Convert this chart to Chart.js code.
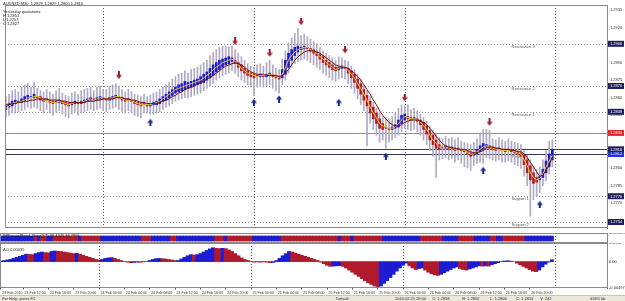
<!DOCTYPE html>
<html>
<head>
<meta charset="utf-8">
<script src="https://cdn.jsdelivr.net/npm/chart.js@4.4.1/dist/chart.umd.min.js"></script>
<style>
  html, body { margin: 0; padding: 0; background: #fff; }
  #wrap { position: relative; width: 625px; height: 301px; overflow: hidden; font-family: "Liberation Sans", Arial, sans-serif; }
  canvas { position: absolute; left: 0; }
  #main { top: 0; }
  #band { top: 233px; }
  #ao { top: 243px; }
  .tiny { position: absolute; font-size: 8px; line-height: 8px; color: #202020; white-space: pre; transform: scale(0.5); transform-origin: 0 0; }
  #status { position: absolute; left: 0; top: 295px; width: 625px; height: 6px; background: #ece9d8; border-top: 1px solid #c8c4b0; }
</style>
</head>
<body>
<div id="wrap">
  <canvas id="main" width="625" height="233"></canvas>
  <canvas id="band" width="625" height="10"></canvas>
  <canvas id="ao" width="625" height="51"></canvas>
  <div id="header"></div>
  <div id="status"></div>
</div>
<script>
// AUDNZD M30, 175 bars from 23 Feb 08:30 to 26 Feb 23:30
const opens = [
  1.2850,1.2852,1.2853,1.2855,1.2856,1.2856,1.2857,1.2859,1.2860,1.2860,
  1.2861,1.2861,1.2859,1.2858,1.2858,1.2857,1.2856,1.2856,1.2857,1.2856,
  1.2855,1.2854,1.2855,1.2856,1.2855,1.2856,1.2857,1.2858,1.2859,1.2858,
  1.2859,1.2860,1.2859,1.2858,1.2859,1.2860,1.2861,1.2860,1.2859,1.2858,
  1.2858,1.2857,1.2856,1.2855,1.2854,1.2854,1.2853,1.2854,1.2854,1.2855,
  1.2857,1.2858,1.2860,1.2862,1.2864,1.2865,1.2866,1.2867,1.2868,1.2869,
  1.2870,1.2871,1.2872,1.2873,1.2875,1.2877,1.2879,1.2882,1.2884,1.2886,
  1.2888,1.2889,1.2891,1.2892,1.2890,1.2888,1.2885,1.2883,1.2881,1.2880,
  1.2878,1.2878,1.2879,1.2878,1.2879,1.2880,1.2879,1.2878,1.2877,1.2880,
  1.2886,1.2892,1.2896,1.2899,1.2901,1.2902,1.2903,1.2902,1.2901,1.2899,
  1.2897,1.2895,1.2892,1.2890,1.2888,1.2886,1.2884,1.2885,1.2886,1.2885,
  1.2883,1.2880,1.2876,1.2872,1.2867,1.2862,1.2857,1.2852,1.2847,1.2842,
  1.2838,1.2835,1.2834,1.2833,1.2834,1.2835,1.2838,1.2841,1.2844,1.2843,
  1.2842,1.2842,1.2841,1.2839,1.2836,1.2832,1.2828,1.2824,1.2820,1.2818,
  1.2817,1.2818,1.2817,1.2817,1.2816,1.2816,1.2815,1.2814,1.2813,1.2811,
  1.2812,1.2814,1.2816,1.2818,1.2819,1.2818,1.2817,1.2816,1.2816,1.2816,
  1.2815,1.2816,1.2815,1.2814,1.2813,1.2811,1.2807,1.2802,1.2796,1.2792,
  1.2790,1.2792,1.2796,1.2801,1.2807
];
const closes = [
  1.2853,1.2855,1.2857,1.2858,1.2857,1.2859,1.2861,1.2862,1.2861,1.2863,
  1.2860,1.2858,1.2857,1.2859,1.2856,1.2855,1.2857,1.2858,1.2855,1.2854,
  1.2853,1.2856,1.2857,1.2855,1.2857,1.2858,1.2859,1.2860,1.2858,1.2860,
  1.2861,1.2859,1.2858,1.2860,1.2861,1.2862,1.2860,1.2858,1.2857,1.2859,
  1.2857,1.2855,1.2854,1.2853,1.2855,1.2853,1.2854,1.2856,1.2857,1.2859,
  1.2861,1.2863,1.2865,1.2867,1.2869,1.2871,1.2872,1.2874,1.2873,1.2874,
  1.2875,1.2876,1.2878,1.2880,1.2882,1.2885,1.2888,1.2890,1.2892,1.2893,
  1.2894,1.2895,1.2894,1.2889,1.2886,1.2883,1.2881,1.2879,1.2878,1.2877,
  1.2879,1.2880,1.2878,1.2880,1.2881,1.2878,1.2877,1.2876,1.2884,1.2892,
  1.2898,1.2901,1.2903,1.2904,1.2903,1.2904,1.2902,1.2900,1.2898,1.2896,
  1.2893,1.2890,1.2888,1.2886,1.2884,1.2883,1.2886,1.2887,1.2885,1.2881,
  1.2877,1.2873,1.2868,1.2863,1.2858,1.2853,1.2847,1.2842,1.2838,1.2834,
  1.2833,1.2834,1.2833,1.2835,1.2837,1.2841,1.2845,1.2846,1.2842,1.2841,
  1.2843,1.2840,1.2837,1.2833,1.2829,1.2824,1.2820,1.2817,1.2816,1.2817,
  1.2819,1.2816,1.2818,1.2815,1.2817,1.2815,1.2814,1.2812,1.2810,1.2813,
  1.2816,1.2819,1.2821,1.2820,1.2817,1.2816,1.2815,1.2817,1.2815,1.2814,
  1.2816,1.2814,1.2813,1.2812,1.2810,1.2803,1.2796,1.2790,1.2787,1.2788,
  1.2793,1.2799,1.2806,1.2812,1.2816
];
const highs = [
  1.2861,1.2863,1.2866,1.2867,1.2865,1.2869,1.2871,1.2872,1.2869,1.2873,
  1.2868,1.2866,1.2865,1.2867,1.2865,1.2863,1.2866,1.2868,1.2864,1.2862,
  1.2861,1.2864,1.2865,1.2863,1.2866,1.2867,1.2868,1.2869,1.2866,1.2869,
  1.2870,1.2867,1.2867,1.2870,1.2871,1.2872,1.2870,1.2867,1.2865,1.2867,
  1.2865,1.2863,1.2862,1.2861,1.2863,1.2861,1.2862,1.2864,1.2865,1.2867,
  1.2869,1.2871,1.2873,1.2876,1.2878,1.2880,1.2881,1.2883,1.2881,1.2884,
  1.2885,1.2886,1.2888,1.2890,1.2892,1.2896,1.2899,1.2901,1.2903,1.2904,
  1.2904,1.2903,1.2904,1.2901,1.2898,1.2895,1.2892,1.2889,1.2887,1.2886,
  1.2888,1.2889,1.2887,1.2890,1.2892,1.2888,1.2885,1.2884,1.2893,1.2900,
  1.2907,1.2911,1.2915,1.2919,1.2913,1.2914,1.2912,1.2910,1.2908,1.2906,
  1.2903,1.2900,1.2898,1.2896,1.2894,1.2892,1.2895,1.2894,1.2892,1.2891,
  1.2887,1.2884,1.2880,1.2876,1.2871,1.2866,1.2861,1.2856,1.2851,1.2847,
  1.2844,1.2843,1.2842,1.2844,1.2847,1.2851,1.2854,1.2853,1.2854,1.2850,
  1.2851,1.2849,1.2846,1.2843,1.2840,1.2836,1.2832,1.2829,1.2826,1.2825,
  1.2827,1.2825,1.2826,1.2824,1.2826,1.2823,1.2822,1.2821,1.2820,1.2822,
  1.2825,1.2830,1.2833,1.2833,1.2832,1.2825,1.2824,1.2826,1.2824,1.2823,
  1.2825,1.2823,1.2822,1.2821,1.2820,1.2815,1.2811,1.2807,1.2801,1.2799,
  1.2801,1.2807,1.2815,1.2823,1.2824
];
const lows = [
  1.2843,1.2845,1.2847,1.2847,1.2848,1.2849,1.2850,1.2852,1.2851,1.2852,
  1.2851,1.2849,1.2847,1.2850,1.2847,1.2845,1.2848,1.2849,1.2846,1.2844,
  1.2843,1.2846,1.2848,1.2845,1.2847,1.2848,1.2849,1.2850,1.2849,1.2850,
  1.2851,1.2849,1.2848,1.2850,1.2851,1.2852,1.2850,1.2848,1.2847,1.2849,
  1.2847,1.2845,1.2844,1.2843,1.2847,1.2847,1.2846,1.2846,1.2847,1.2848,
  1.2850,1.2852,1.2853,1.2855,1.2857,1.2858,1.2859,1.2860,1.2860,1.2861,
  1.2862,1.2863,1.2864,1.2866,1.2868,1.2870,1.2872,1.2875,1.2877,1.2879,
  1.2880,1.2881,1.2883,1.2881,1.2878,1.2875,1.2873,1.2871,1.2869,1.2862,
  1.2869,1.2870,1.2869,1.2870,1.2871,1.2868,1.2866,1.2864,1.2871,1.2875,
  1.2881,1.2886,1.2889,1.2891,1.2892,1.2893,1.2892,1.2890,1.2888,1.2886,
  1.2884,1.2881,1.2879,1.2877,1.2875,1.2874,1.2876,1.2877,1.2876,1.2872,
  1.2868,1.2864,1.2859,1.2854,1.2849,1.2819,1.2838,1.2833,1.2828,1.2822,
  1.2824,1.2817,1.2822,1.2824,1.2826,1.2828,1.2831,1.2834,1.2833,1.2832,
  1.2833,1.2831,1.2828,1.2824,1.2820,1.2815,1.2810,1.2792,1.2807,1.2808,
  1.2809,1.2807,1.2808,1.2805,1.2807,1.2804,1.2801,1.2800,1.2798,1.2802,
  1.2804,1.2805,1.2804,1.2809,1.2808,1.2807,1.2806,1.2807,1.2805,1.2805,
  1.2806,1.2805,1.2803,1.2802,1.2800,1.2793,1.2785,1.2759,1.2773,1.2776,
  1.2779,1.2785,1.2789,1.2795,1.2801
];
// yellow and dark red moving averages
const fastMA = [
  1.2851,1.2853,1.2855,1.2856,1.2856,1.2857,1.2858,1.2860,1.2860,1.2861,
  1.2861,1.2860,1.2858,1.2858,1.2857,1.2856,1.2856,1.2857,1.2856,1.2855,
  1.2854,1.2855,1.2856,1.2856,1.2856,1.2857,1.2858,1.2859,1.2858,1.2859,
  1.2860,1.2860,1.2859,1.2859,1.2860,1.2861,1.2861,1.2859,1.2858,1.2858,
  1.2858,1.2856,1.2855,1.2854,1.2854,1.2854,1.2854,1.2855,1.2856,1.2857,
  1.2859,1.2861,1.2863,1.2865,1.2867,1.2868,1.2869,1.2870,1.2871,1.2872,
  1.2873,1.2874,1.2875,1.2877,1.2879,1.2881,1.2884,1.2886,1.2888,1.2890,
  1.2891,1.2892,1.2893,1.2891,1.2888,1.2885,1.2883,1.2881,1.2880,1.2879,
  1.2878,1.2879,1.2879,1.2879,1.2880,1.2880,1.2878,1.2877,1.2880,1.2886,
  1.2892,1.2896,1.2899,1.2901,1.2902,1.2903,1.2903,1.2901,1.2900,1.2898,
  1.2895,1.2893,1.2890,1.2888,1.2886,1.2884,1.2885,1.2886,1.2886,1.2883,
  1.2880,1.2877,1.2872,1.2868,1.2863,1.2858,1.2852,1.2847,1.2843,1.2838,
  1.2836,1.2835,1.2834,1.2834,1.2835,1.2838,1.2841,1.2844,1.2843,1.2842,
  1.2842,1.2841,1.2839,1.2836,1.2833,1.2828,1.2824,1.2821,1.2818,1.2817,
  1.2818,1.2817,1.2817,1.2816,1.2816,1.2816,1.2815,1.2813,1.2812,1.2812,
  1.2814,1.2816,1.2818,1.2819,1.2818,1.2817,1.2816,1.2816,1.2815,1.2815,
  1.2815,1.2815,1.2814,1.2813,1.2812,1.2807,1.2802,1.2796,1.2792,1.2790,
  1.2791,1.2795,1.2801,1.2806,1.2811
];
const slowMA = [
  1.2854,1.2854,1.2855,1.2855,1.2856,1.2856,1.2857,1.2857,1.2858,1.2858,
  1.2859,1.2859,1.2859,1.2859,1.2858,1.2858,1.2858,1.2858,1.2857,1.2857,
  1.2856,1.2856,1.2856,1.2856,1.2856,1.2856,1.2857,1.2857,1.2857,1.2858,
  1.2858,1.2859,1.2859,1.2859,1.2859,1.2860,1.2860,1.2860,1.2859,1.2859,
  1.2858,1.2858,1.2857,1.2856,1.2856,1.2855,1.2855,1.2855,1.2855,1.2856,
  1.2857,1.2858,1.2859,1.2861,1.2862,1.2864,1.2865,1.2867,1.2868,1.2869,
  1.2870,1.2872,1.2873,1.2874,1.2876,1.2877,1.2879,1.2881,1.2883,1.2885,
  1.2887,1.2888,1.2889,1.2890,1.2889,1.2888,1.2886,1.2884,1.2882,1.2881,
  1.2880,1.2880,1.2880,1.2879,1.2879,1.2879,1.2879,1.2878,1.2879,1.2881,
  1.2884,1.2888,1.2892,1.2895,1.2897,1.2899,1.2900,1.2900,1.2900,1.2899,
  1.2898,1.2896,1.2894,1.2892,1.2890,1.2888,1.2887,1.2886,1.2886,1.2885,
  1.2883,1.2881,1.2878,1.2875,1.2871,1.2867,1.2863,1.2858,1.2854,1.2849,
  1.2845,1.2842,1.2839,1.2837,1.2836,1.2836,1.2837,1.2839,1.2840,1.2841,
  1.2841,1.2841,1.2840,1.2839,1.2837,1.2834,1.2831,1.2827,1.2824,1.2821,
  1.2819,1.2818,1.2817,1.2817,1.2816,1.2816,1.2816,1.2815,1.2814,1.2813,
  1.2813,1.2814,1.2815,1.2817,1.2818,1.2818,1.2817,1.2817,1.2816,1.2816,
  1.2816,1.2815,1.2815,1.2814,1.2814,1.2812,1.2809,1.2805,1.2801,1.2797,
  1.2793,1.2794,1.2798,1.2803,1.2809
];
// Awesome Oscillator
const aoValues = [
  0.0001,0.0002,0.0003,0.0004,0.0006,0.0008,0.0010,0.0012,0.0014,0.00135,
  0.0013,0.0015,0.0017,0.0018,0.0017,0.00165,0.0019,0.0020,0.00195,0.0019,
  0.0018,0.0017,0.0016,0.0015,0.00155,0.0014,0.0012,0.0010,0.0008,0.0006,
  0.0004,0.0003,0.0004,0.0006,0.0007,0.00075,0.0006,0.0004,0.0002,0.0000,
  -0.0001,-0.0002,-0.00015,-0.0001,-0.00012,-0.00005,0.0000,0.0002,0.0004,0.00055,
  0.0006,0.00055,0.0005,0.0004,0.0003,0.0002,0.0002,0.0005,0.0008,0.0011,
  0.0013,0.00125,0.0013,0.0015,0.0018,0.0021,0.0024,0.0026,0.0025,0.00245,
  0.0025,0.00245,0.0022,0.0019,0.0015,0.0011,0.0007,0.0004,0.0002,0.0000,
  -0.0001,-0.00005,-0.0001,-0.00005,-0.0001,-0.0002,-0.00015,0.0002,0.0006,0.0011,
  0.0015,0.0019,0.0018,0.0016,0.0014,0.0012,0.0010,0.0008,0.0006,0.0004,
  0.0002,-0.0001,-0.0004,-0.0007,-0.0009,-0.00085,-0.0008,-0.00075,-0.0009,-0.0012,
  -0.0016,-0.0020,-0.0024,-0.0028,-0.0032,-0.0036,-0.0040,-0.0043,-0.0046,-0.00497,
  -0.0046,-0.0041,-0.0036,-0.0030,-0.0024,-0.0018,-0.0012,-0.0007,-0.0003,-0.0008,
  -0.0012,-0.0015,-0.0013,-0.0012,-0.0016,-0.0020,-0.0023,-0.0025,-0.0026,-0.0024,
  -0.0021,-0.0018,-0.0015,-0.0012,-0.0010,-0.0013,-0.0015,-0.0016,-0.0014,-0.0012,
  -0.0010,-0.0008,-0.00085,-0.0008,-0.00085,-0.0006,-0.0004,-0.0002,0.0000,0.0001,
  0.00015,0.0001,0.0000,-0.0003,-0.0006,-0.0009,-0.0012,-0.0015,-0.0018,-0.0019,
  -0.0016,-0.0010,-0.0005,-0.0001,0.00035
];
// band indicator: [direction, number of bars]
const bandRuns = [[1,11],[-1,1],[1,1],[-1,2],[1,2],[-1,8],[1,1],[-1,6],[1,13],[-1,3],[1,6],[-1,2],[1,12],[-1,3],[1,1],[-1,8],[1,9],[-1,18],[1,1],[-1,3],[1,1],[-1,9],[1,12],[-1,7],[1,5],[-1,5],[1,5],[-1,2],[1,2],[-1,7],[1,9]];

const downArrowBars = [36, 73, 84, 94, 108, 127, 154];
const downArrowPrices = [1.2879, 1.2908, 1.2898, 1.2925, 1.2901, 1.2860, 1.2839];
const upArrowBars = [46, 79, 87, 106, 121, 152, 170];
const upArrowPrices = [1.2839, 1.2856, 1.2859, 1.2856, 1.2810, 1.2798, 1.2769];

const pivotNames = ['Resistance 3', 'Resistance 2', 'Resistance 1', 'Pivot', 'Support 1', 'Support 2'];
const pivotPrices = [1.2906, 1.2870, 1.2848, 1.2812, 1.2776, 1.2754];
const closeLinePrice = 1.2830;
const bidPrice = 1.2816;

const priceTicks = [1.2935, 1.2920, 1.2905, 1.2890, 1.2875, 1.2860, 1.2845, 1.2830, 1.2815, 1.2800, 1.2785, 1.2770, 1.2755];
const tickBars = [0, 7, 15, 23, 31, 39, 47, 55, 63, 71, 79, 87, 95, 103, 111, 119, 127, 135, 143, 151, 159, 167];
const tickLabels = ['23 Feb 2010', '23 Feb 12:00', '23 Feb 16:00', '23 Feb 20:00', '24 Feb 00:00', '24 Feb 04:00',
  '24 Feb 08:00', '24 Feb 12:00', '24 Feb 16:00', '24 Feb 20:00', '25 Feb 00:00', '25 Feb 04:00', '25 Feb 08:00',
  '25 Feb 12:00', '25 Feb 16:00', '25 Feb 20:00', '26 Feb 00:00', '26 Feb 04:00', '26 Feb 08:00', '26 Feb 12:00',
  '26 Feb 16:00', '26 Feb 20:00'];
const daySeparators = [31, 79, 127, 175];
const aoTicks = [0.0035, 0, -0.00497];
const aoTickLabels = ['0.0035', '0.00', '-0.00497'];
const bandTickLabels = ['456.4635', '0.00', '-561.407'];

const headerLines = ['AUDNZD,M30  1.2829 1.2829 1.2805 1.2816', '', 'Yesterday quotations:', 'H 1.2851', 'L 1.2757', 'C 1.2827'];
const statusTexts = ['For Help, press F1', 'Default', '2010.02.25 20:00', 'O: 1.2818', 'H: 1.2852', 'L: 1.2806', 'C: 1.2813', 'V: 242', '418/1 kb'];
const statusLeft = [2, 336, 395, 432, 462, 490, 516, 540, 590];

// look
const BULL = '#1c1cd2', BEAR = '#b01a2c', WICK = '#b0a9c4';
const FONT = { family: 'Liberation Sans', size: 4 };
const X_FONT = { family: 'Liberation Sans', size: 3.6 };
const X_MIN = -0.27, X_MAX = 191.41, AXIS_W = 18;

function fixAxis(s) { s.width = AXIS_W; s.paddingTop = 0; s.paddingBottom = 0; }

function arrowImage(color, down) {
  const c = document.createElement('canvas');
  c.width = 6; c.height = 8;
  const g = c.getContext('2d');
  g.fillStyle = color;
  g.beginPath();
  if (down) {
    g.fillRect(2, 0, 2, 4.5);
    g.moveTo(0, 3.5); g.lineTo(6, 3.5); g.lineTo(3, 7.5);
  } else {
    g.fillRect(2, 3.5, 2, 4.5);
    g.moveTo(0, 4.5); g.lineTo(6, 4.5); g.lineTo(3, 0.5);
  }
  g.closePath(); g.fill();
  return c;
}

const xScale = (display) => ({ type: 'linear', min: X_MIN, max: X_MAX, offset: false, display: display, grid: { display: false, offset: false } });

function drawSeparators(chart) {
  const { ctx, chartArea: a, scales: { x } } = chart;
  ctx.save();
  ctx.strokeStyle = '#5a5a5a'; ctx.lineWidth = 1; ctx.setLineDash([1, 2]);
  daySeparators.forEach(b => {
    const px = Math.round(x.getPixelForValue(b)) + 0.5;
    ctx.beginPath(); ctx.moveTo(px, a.top); ctx.lineTo(px, a.bottom); ctx.stroke();
  });
  ctx.restore();
}

function drawFrame(chart) {
  const { ctx, chartArea: a } = chart;
  ctx.save();
  ctx.strokeStyle = '#8a8a8a'; ctx.lineWidth = 1;
  ctx.strokeRect(a.left + 0.5, a.top + 0.5, a.right - a.left, a.bottom - a.top - 1);
  ctx.restore();
}

function hLine(ctx, a, py, color, dash) {
  ctx.strokeStyle = color; ctx.setLineDash(dash);
  ctx.beginPath(); ctx.moveTo(a.left, py); ctx.lineTo(a.right, py); ctx.stroke();
}

function priceBox(ctx, a, py, price, bg) {
  ctx.fillStyle = bg;
  ctx.fillRect(a.right + 1, py - 3, 16, 6);
  ctx.fillStyle = '#fff';
  ctx.font = '4px "Liberation Sans"';
  ctx.textBaseline = 'middle'; ctx.textAlign = 'left';
  ctx.fillText(price.toFixed(4), a.right + 3, py + 0.3);
}

const mainPanel = {
  id: 'mainPanel',
  beforeDatasetsDraw(chart) {
    const { ctx, chartArea: a, scales: { x, y } } = chart;
    drawSeparators(chart);
    ctx.save();
    ctx.lineWidth = 1;
    pivotPrices.forEach((p, k) => {
      const py = Math.round(y.getPixelForValue(p)) + 0.5;
      if (k === 3) hLine(ctx, a, py, '#34345a', []);
      else hLine(ctx, a, py, '#8c8c8c', [1, 2]);
    });
    hLine(ctx, a, Math.round(y.getPixelForValue(closeLinePrice)) + 0.5, '#a08a8a', []);
    hLine(ctx, a, Math.round(y.getPixelForValue(bidPrice)) + 0.5, '#3a3a3a', []);
    ctx.fillStyle = '#555';
    ctx.font = '4px "Liberation Sans"';
    ctx.textBaseline = 'top'; ctx.textAlign = 'left';
    pivotNames.forEach((n, k) => {
      ctx.fillText(n, x.getPixelForValue(161), y.getPixelForValue(pivotPrices[k]) + 1);
    });
    ctx.restore();
  },
  afterDraw(chart) {
    const { ctx, chartArea: a, scales: { y } } = chart;
    drawFrame(chart);
    ctx.save();
    pivotPrices.forEach((p, k) => priceBox(ctx, a, y.getPixelForValue(p), p, k === 3 ? '#2332e8' : '#1f1f5e'));
    priceBox(ctx, a, y.getPixelForValue(closeLinePrice), closeLinePrice, '#e3262e');
    priceBox(ctx, a, y.getPixelForValue(bidPrice), bidPrice, '#1f1f5e');
    ctx.restore();
  }
};

const subPanel = {
  id: 'subPanel',
  beforeDatasetsDraw(chart) { drawSeparators(chart); },
  afterDraw(chart) { drawFrame(chart); }
};

const idx = opens.map((_, i) => i);
const barColor = idx.map(i => closes[i] >= opens[i] ? BULL : BEAR);

new Chart(document.getElementById('main'), {
  type: 'bar',
  data: {
    datasets: [
      { type: 'scatter', data: downArrowBars.map((b, k) => ({ x: b, y: downArrowPrices[k] })),
        pointStyle: arrowImage('#9a1b2d', true), pointRadius: 4, order: 1 },
      { type: 'scatter', data: upArrowBars.map((b, k) => ({ x: b, y: upArrowPrices[k] })),
        pointStyle: arrowImage('#17268f', false), pointRadius: 4, order: 1 },
      { type: 'line', data: idx.map(i => ({ x: i, y: slowMA[i] })), borderColor: '#760b0b', borderWidth: 1,
        pointRadius: 0, tension: 0, order: 2 },
      { type: 'line', data: idx.map(i => ({ x: i, y: fastMA[i] })), borderColor: '#f0cf1c', borderWidth: 1,
        pointRadius: 0, tension: 0, order: 3 },
      { data: idx.map(i => ({ x: i, y: [opens[i], closes[i]] })), backgroundColor: barColor,
        barThickness: 2, grouped: false, order: 4 },
      { data: idx.map(i => ({ x: i, y: [lows[i], highs[i]] })), backgroundColor: WICK,
        barThickness: 1, grouped: false, order: 5 }
    ]
  },
  options: {
    responsive: false, animation: false, devicePixelRatio: 1,
    layout: { padding: 0 },
    plugins: { legend: { display: false }, tooltip: { enabled: false } },
    scales: {
      x: xScale(false),
      y: {
        position: 'right', min: 1.27489, max: 1.29391,
        afterBuildTicks: s => { s.ticks = priceTicks.map(v => ({ value: v })); },
        afterFit: fixAxis,
        ticks: { font: FONT, color: '#303030', padding: 3, callback: v => v.toFixed(4) },
        grid: { display: false, drawTicks: false },
        border: { color: '#555' }
      }
    }
  },
  plugins: [mainPanel]
});

const bandSign = bandRuns.flatMap(([s, n]) => Array(n).fill(s));
new Chart(document.getElementById('band'), {
  type: 'bar',
  data: {
    datasets: [{ data: bandSign.map((s, i) => ({ x: i, y: [0, 1] })),
      backgroundColor: bandSign.map(s => s > 0 ? BULL : BEAR), barThickness: 3.3, grouped: false }]
  },
  options: {
    responsive: false, animation: false, devicePixelRatio: 1,
    layout: { padding: 0 },
    plugins: { legend: { display: false }, tooltip: { enabled: false } },
    scales: {
      x: xScale(false),
      y: {
        position: 'right', min: -0.4, max: 1.6,
        afterBuildTicks: s => { s.ticks = [1.6, 0.6, -0.4].map(v => ({ value: v })); },
        afterFit: fixAxis,
        ticks: { font: FONT, color: '#303030', padding: 2, callback: (v, i) => bandTickLabels[i] },
        grid: { display: false, drawTicks: false },
        border: { color: '#555' }
      }
    }
  },
  plugins: [subPanel, {
    id: 'bandTitle',
    afterDatasetsDraw(chart) {
      const { ctx, chartArea: a } = chart;
      ctx.save();
      ctx.fillStyle = '#202020'; ctx.font = '4px "Liberation Sans"';
      ctx.textBaseline = 'top';
      ctx.fillText('BBFractalBand_Bars(3,7) 36.4345 36.7895', a.left + 3, a.top + 0.5);
      ctx.restore();
    }
  }]
});

new Chart(document.getElementById('ao'), {
  type: 'bar',
  data: {
    datasets: [{ data: aoValues.map((v, i) => ({ x: i, y: v })),
      backgroundColor: aoValues.map((v, i) => i > 0 && v < aoValues[i - 1] ? BEAR : BULL),
      barThickness: 3.3, grouped: false }]
  },
  options: {
    responsive: false, animation: false, devicePixelRatio: 1,
    layout: { padding: 0 },
    plugins: { legend: { display: false }, tooltip: { enabled: false } },
    scales: {
      x: {
        type: 'linear', min: X_MIN, max: X_MAX, offset: false,
        afterBuildTicks: s => { s.ticks = tickBars.map(v => ({ value: v })); },
        afterFit: s => { s.height = 6; s.paddingLeft = 0; s.paddingRight = 0; },
        ticks: { font: X_FONT, color: '#303030', align: 'start', maxRotation: 0, autoSkip: false, padding: 1,
          labelOffset: 1.5, callback: (v, i) => tickLabels[i] },
        grid: { drawOnChartArea: false, tickLength: 1.5, color: '#555', offset: false },
        border: { display: false }
      },
      y: {
        position: 'right', min: -0.00497, max: 0.0035,
        afterBuildTicks: s => { s.ticks = aoTicks.map(v => ({ value: v })); },
        afterFit: fixAxis,
        ticks: { font: FONT, color: '#303030', padding: 2, callback: (v, i) => aoTickLabels[i] },
        grid: { display: false, drawTicks: false },
        border: { color: '#555' }
      }
    }
  },
  plugins: [subPanel, {
    id: 'aoTitle',
    afterDatasetsDraw(chart) {
      const { ctx, chartArea: a } = chart;
      ctx.save();
      ctx.fillStyle = '#202020'; ctx.font = '4px "Liberation Sans"';
      ctx.textBaseline = 'top';
      ctx.fillText('AO 0.00035', a.left + 3, a.top + 5);
      ctx.restore();
    }
  }]
});

// header text and status bar
const header = document.getElementById('header');
headerLines.forEach((t, k) => {
  const d = document.createElement('div');
  d.className = 'tiny';
  d.style.left = '3px';
  d.style.top = (2 + k * 4) + 'px';
  d.textContent = t;
  header.appendChild(d);
});
const status = document.getElementById('status');
statusTexts.forEach((t, k) => {
  const d = document.createElement('div');
  d.className = 'tiny';
  d.style.left = statusLeft[k] + 'px';
  d.style.top = '1px';
  d.textContent = t;
  status.appendChild(d);
});
</script>
</body>
</html>
